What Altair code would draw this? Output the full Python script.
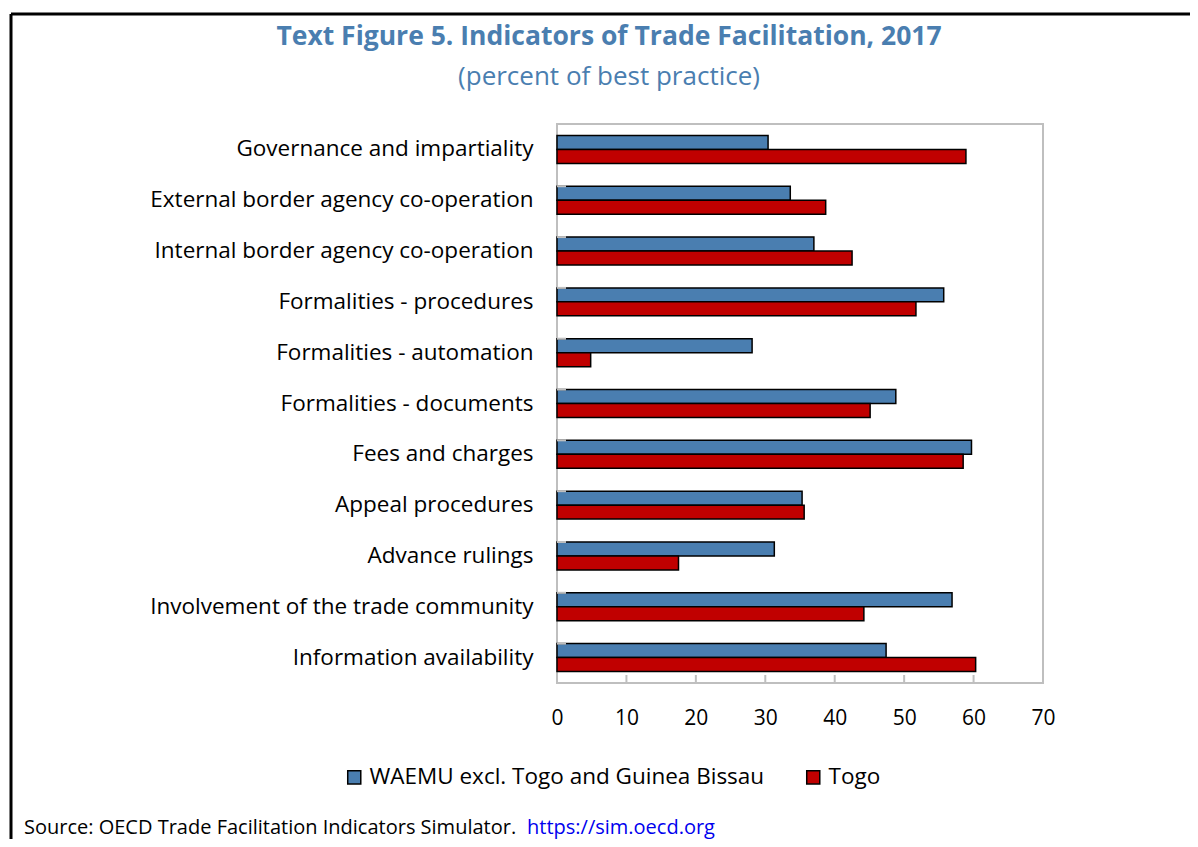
import altair as alt
import pandas as pd

categories = [
    "Governance and impartiality",
    "External border agency co-operation",
    "Internal border agency co-operation",
    "Formalities - procedures",
    "Formalities - automation",
    "Formalities - documents",
    "Fees and charges",
    "Appeal procedures",
    "Advance rulings",
    "Involvement of the trade community",
    "Information availability",
]
waemu = [30.4, 33.6, 37.0, 55.7, 28.1, 48.8, 59.7, 35.3, 31.3, 56.9, 47.4]
togo = [58.9, 38.7, 42.5, 51.7, 4.85, 45.1, 58.5, 35.6, 17.5, 44.2, 60.3]
series = ["WAEMU excl. Togo and Guinea Bissau", "Togo"]
colors = ["#4a7eb0", "#c00000"]
x_ticks = [0, 10, 20, 30, 40, 50, 60, 70]
title_text = "Text Figure 5. Indicators of Trade Facilitation, 2017"
subtitle_text = "(percent of best practice)"
source_text = "Source: OECD Trade Facilitation Indicators Simulator."
link_text = "https://sim.oecd.org"

W, H = 486, 559
PL, PT = 549, 116
FONT = "Open Sans"

rows = []
for c, a, b in zip(categories, waemu, togo):
    rows.append({"cat": c, "series": series[0], "value": a})
    rows.append({"cat": c, "series": series[1], "value": b})
df = pd.DataFrame(rows)

yscale = alt.Scale(domain=categories, paddingInner=0.45, paddingOuter=0.225)
xscale = alt.Scale(domain=[0, 70], nice=False)
xaxis = alt.Axis(values=x_ticks, title=None, domain=False, ticks=False, grid=False, labelFlush=False,
                 labelFontSize=21, labelPadding=24, labelColor="black", labelFont=FONT)
yaxis = alt.Axis(title=None, domain=False, ticks=False, grid=False, labelFontSize=22.5, labelPadding=24,
                 labelColor="black", labelFont=FONT, labelLimit=0)

bars = alt.Chart(df).mark_bar(stroke="black", strokeWidth=1.5).encode(
    x=alt.X("value:Q", scale=xscale, axis=xaxis),
    y=alt.Y("cat:N", scale=yscale, sort=categories, axis=yaxis),
    yOffset=alt.YOffset("series:N", sort=series, scale=alt.Scale(domain=series, paddingInner=0, paddingOuter=0)),
    fill=alt.Fill("series:N", scale=alt.Scale(domain=series, range=colors),
                  legend=alt.Legend(orient="none", legendX=-214, legendY=642, direction="horizontal",
                                    title=None, symbolType="square", symbolSize=170,
                                    symbolStrokeColor="black", symbolStrokeWidth=1.5,
                                    labelFontSize=22.5, labelFont=FONT, labelColor="black",
                                    labelLimit=0, columnPadding=37, symbolOpacity=1)),
)

ytick_df = pd.DataFrame({"cat": categories[1:]})
yticks = alt.Chart(ytick_df).mark_rule(color="#bfbfbf", strokeWidth=2).encode(
    y=alt.Y("cat:N", scale=yscale, sort=categories, bandPosition=0, axis=yaxis),
    x=alt.value(0), x2=alt.value(9),
)

xtick_df = pd.DataFrame({"value": x_ticks[1:-1]})
xticks = alt.Chart(xtick_df).mark_rule(color="#bfbfbf", strokeWidth=2).encode(
    x=alt.X("value:Q", scale=xscale, axis=xaxis),
    y=alt.value(H), y2=alt.value(H - 8),
)

title = alt.Chart(pd.DataFrame({"t": [title_text]})).mark_text(
    font=FONT, fontSize=26.5, fontWeight="bold", color="#4a7eb0", align="center", baseline="alphabetic"
).encode(text="t:N", x=alt.value(609 - 557), y=alt.value(45 - 124))

subtitle = alt.Chart(pd.DataFrame({"t": [subtitle_text]})).mark_text(
    font=FONT, fontSize=26, color="#4a7eb0", align="center", baseline="alphabetic"
).encode(text="t:N", x=alt.value(609 - 557), y=alt.value(85 - 124))

source = alt.Chart(pd.DataFrame({"t": [source_text]})).mark_text(
    font=FONT, fontSize=20, color="black", align="left", baseline="alphabetic"
).encode(text="t:N", x=alt.value(24 - 557), y=alt.value(834 - 124))

link = alt.Chart(pd.DataFrame({"t": [link_text]})).mark_text(
    font=FONT, fontSize=20, color="#0000ee", align="left", baseline="alphabetic"
).encode(text="t:N", x=alt.value(527 - 557), y=alt.value(834 - 124))

frame_df = pd.DataFrame({"k": [0]})
frame_left = alt.Chart(frame_df).mark_rule(color="black", strokeWidth=3).encode(
    x=alt.value(11 - 557), y=alt.value(14 - 124), y2=alt.value(870 - 124))
frame_top = alt.Chart(frame_df).mark_rule(color="black", strokeWidth=3).encode(
    x=alt.value(11 - 557), x2=alt.value(1210 - 557), y=alt.value(14 - 124))

chart = alt.layer(bars, yticks, xticks, title, subtitle, source, link, frame_left, frame_top).properties(
    width=W, height=H,
    autosize=alt.AutoSizeParams(type="none"),
    padding={"left": PL, "top": PT, "right": 1182 - PL - W, "bottom": 831 - PT - H},
    background="white",
).configure_view(stroke="#bfbfbf", strokeWidth=2)

chart.save("out.html", embed_options={"renderer": "svg", "actions": False})
